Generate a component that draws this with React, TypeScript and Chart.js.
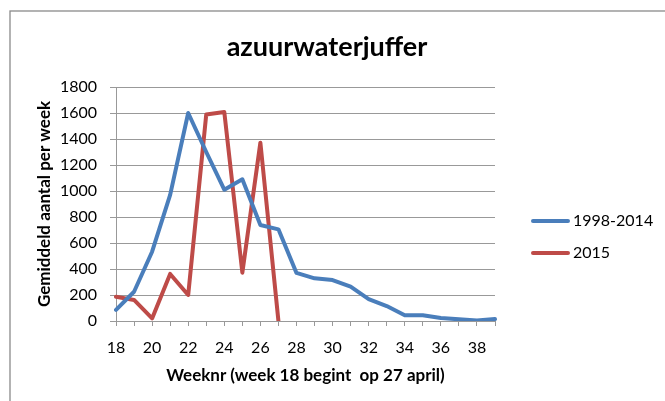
import React, { useEffect, useRef } from "react";
import { Chart, registerables } from "chart.js";

Chart.register(...registerables);

const weeks = [18, 19, 20, 21, 22, 23, 24, 25, 26, 27, 28, 29, 30, 31, 32, 33, 34, 35, 36, 37, 38, 39];
const avg1998to2014 = [85, 225, 533, 970, 1600, 1300, 1010, 1090, 738, 705, 370, 328, 315, 264, 169, 115, 44, 44, 23, 13, 3, 15];
const year2015: (number | null)[] = [187, 162, 20, 362, 200, 1588, 1608, 372, 1372, 0, null, null, null, null, null, null, null, null, null, null, null, null];
const seriesNames = ["1998-2014", "2015"];
const seriesColors = ["#4a7ebb", "#be4b48"];
const yMin = 0;
const yMax = 1800;
const yStep = 200;
const chartTitle = "azuurwaterjuffer";
const xTitle = "Weeknr (week 18 begint  op 27 april)";
const yTitle = "Gemiddeld aantal per week";

const FONT = "Lato, 'Open Sans', sans-serif";

const decor = {
  id: "decor",
  beforeDraw(chart: any) {
    const ctx = chart.ctx;
    ctx.save();
    ctx.fillStyle = "#ffffff";
    ctx.fillRect(0, 0, chart.width, chart.height);
    ctx.strokeStyle = "#8a8a8a";
    ctx.lineWidth = 1.3;
    ctx.strokeRect(10, 11, chart.width + 20, chart.height + 20);
    ctx.restore();
  },
  afterDraw(chart: any) {
    const ctx = chart.ctx;
    ctx.save();
    ctx.fillStyle = "#000";
    ctx.font = `bold 27px ${FONT}`;
    ctx.textAlign = "center";
    ctx.textBaseline = "middle";
    ctx.fillText(chartTitle, 327, 47);
    const ys = [221, 253];
    chart.data.datasets.forEach((ds: any, i: number) => {
      ctx.strokeStyle = ds.borderColor;
      ctx.lineWidth = 4;
      ctx.lineCap = "round";
      ctx.beginPath();
      ctx.moveTo(533, ys[i]);
      ctx.lineTo(568, ys[i]);
      ctx.stroke();
      ctx.fillStyle = "#000";
      ctx.font = `16px ${FONT}`;
      ctx.textAlign = "left";
      ctx.textBaseline = "middle";
      ctx.fillText(ds.label, 573, ys[i]);
    });
    ctx.restore();
  },
};

export default function App() {
  const ref = useRef<HTMLCanvasElement | null>(null);
  useEffect(() => {
    if (!ref.current) return;
    const chart = new Chart(ref.current, {
      type: "line",
      data: {
        labels: weeks.map(String),
        datasets: [
          {
            label: seriesNames[0],
            data: avg1998to2014,
            borderColor: seriesColors[0],
            backgroundColor: seriesColors[0],
            borderWidth: 4,
            pointRadius: 0,
            tension: 0,
            borderJoinStyle: "round",
            borderCapStyle: "round",
          },
          {
            label: seriesNames[1],
            data: year2015,
            borderColor: seriesColors[1],
            backgroundColor: seriesColors[1],
            borderWidth: 4,
            pointRadius: 0,
            tension: 0,
            borderJoinStyle: "round",
            borderCapStyle: "round",
          },
        ],
      },
      options: {
        responsive: false,
        animation: false,
        devicePixelRatio: 1,
        layout: { padding: { top: 87, right: 170, bottom: 0, left: 0 } },
        plugins: {
          legend: { display: false },
          title: { display: false },
          tooltip: { enabled: false },
        },
        scales: {
          x: {
            offset: false,
            ticks: {
              autoSkip: false,
              maxRotation: 0,
              minRotation: 0,
              color: "#000",
              font: { family: FONT, size: 16 },
              padding: 12,
              callback: (_v: any, i: number) => (i % 2 === 0 ? String(weeks[i]) : ""),
            },
            grid: { drawOnChartArea: false, drawTicks: true, tickLength: 5, color: "#999", lineWidth: 1 },
            border: { display: true, color: "#999", width: 1 },
            title: {
              display: true,
              text: xTitle,
              color: "#000",
              font: { family: FONT, size: 17, weight: "bold" },
              padding: { top: 0, bottom: 14.8 },
            },
            afterFit: (s: any) => {
              s.height = 80;
            },
          },
          y: {
            min: yMin,
            max: yMax,
            ticks: {
              stepSize: yStep,
              color: "#000",
              font: { family: FONT, size: 16 },
              padding: 13,
              callback: (v: any) => String(v),
            },
            grid: { color: "#999", lineWidth: 1, tickLength: 6, drawTicks: true },
            border: { display: true, color: "#999", width: 1 },
            title: {
              display: true,
              text: yTitle,
              color: "#000",
              font: { family: FONT, size: 17, weight: "bold" },
              padding: { top: 34.8, bottom: 0 },
            },
            afterFit: (s: any) => {
              s.width = 116;
            },
          },
        },
      },
      plugins: [decor],
    } as any);
    return () => chart.destroy();
  }, []);
  return (
    <div style={{ position: "fixed", left: 0, top: 0, width: 665, height: 401, background: "#fff" }}>
      <canvas ref={ref} width={665} height={401} style={{ width: 665, height: 401, display: "block" }} />
    </div>
  );
}
